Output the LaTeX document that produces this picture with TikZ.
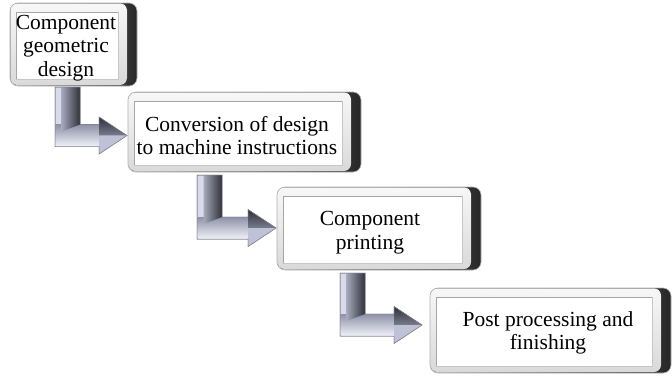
\documentclass[tikz,border=0pt]{standalone}
\usepackage{fontspec}
\setmainfont{Liberation Serif}
\newfontfamily\tnr{Liberation Serif}
\usetikzlibrary{calc}
\definecolor{barlight}{HTML}{D9DBEA}
\definecolor{barline}{HTML}{7E8090}
\definecolor{bartop}{HTML}{8F92A8}
\definecolor{barbot}{HTML}{EEEFF7}
\definecolor{vleft}{HTML}{A6A9BC}
\definecolor{vright}{HTML}{2F3039}
\definecolor{headdark}{HTML}{2E2F3A}
\definecolor{headmid}{HTML}{7A7C8C}
\definecolor{headlight}{HTML}{BFC2D6}
\newcommand\bentarrow[2]{%
  \filldraw[fill=barlight, draw=barline, line width=0.5pt] let \p1=(#1), \p2=(#2) in
    (\x1-12.5pt,\y1) -- (\x1+12.5pt,\y1) -- (\x1+12.5pt,\y2+11pt) -- (\x2-28pt,\y2+11pt)
    -- (\x2-28pt,\y2+18.5pt) -- (\x2,\y2) -- (\x2-28pt,\y2-18.5pt) -- (\x2-28pt,\y2-11pt)
    -- (\x1-12.5pt,\y2-11pt) -- cycle;
  \shade[top color=bartop, bottom color=barbot] let \p1=(#1), \p2=(#2) in
    (\x1-12pt,\y2-10.5pt) rectangle (\x2-28pt,\y2+11pt);
  \shade[left color=vleft, right color=vright] let \p1=(#1), \p2=(#2) in
    (\x1-6pt,\y1) -- (\x1+12.5pt,\y1) -- (\x1+12.5pt,\y2+11pt) -- (\x1-6pt,\y2+4pt) -- cycle;
  \shade[top color=headdark, bottom color=headmid] let \p1=(#1), \p2=(#2) in
    (\x2-28pt,\y2+18.5pt) -- (\x2,\y2) -- (\x2-28pt,\y2) -- cycle;
  \fill[headlight] let \p1=(#1), \p2=(#2) in
    (\x2-28pt,\y2) -- (\x2,\y2) -- (\x2-28pt,\y2-18.5pt) -- cycle;
  \draw[barline, line width=0.5pt] let \p1=(#1), \p2=(#2) in
    (\x1-12.5pt,\y1) -- (\x1+12.5pt,\y1) -- (\x1+12.5pt,\y2+11pt) -- (\x2-28pt,\y2+11pt)
    -- (\x2-28pt,\y2+18.5pt) -- (\x2,\y2) -- (\x2-28pt,\y2-18.5pt) -- (\x2-28pt,\y2-11pt)
    -- (\x1-12.5pt,\y2-11pt) -- cycle;
}
\begin{document}
\begin{tikzpicture}[x=1pt,y=1pt,
  bevbox/.style={rectangle, rounded corners=8pt, draw=gray!60, line width=0.6pt,
    left color=gray!25, right color=black!85, inner sep=0pt, outer sep=0pt,
    path picture={
      \fill[top color=gray!6, bottom color=gray!30, rounded corners=7pt]
        ([xshift=0.3pt,yshift=-0.3pt]path picture bounding box.north west) rectangle
        ([xshift=-10pt,yshift=1pt]path picture bounding box.south east);
      \fill[white, sharp corners]
        ([xshift=6pt,yshift=-9pt]path picture bounding box.north west) rectangle
        ([xshift=-19pt,yshift=7pt]path picture bounding box.south east);
      \draw[gray!45, line width=0.8pt, sharp corners]
        ([xshift=6pt,yshift=-9pt]path picture bounding box.north west) rectangle
        ([xshift=-19pt,yshift=7pt]path picture bounding box.south east);
      \draw[gray!70, line width=1.6pt, sharp corners]
        ([xshift=6.5pt,yshift=7pt]path picture bounding box.south west) |-
        ([xshift=-19pt,yshift=-9.5pt]path picture bounding box.north east);
    }},
  txt/.style={align=center, font=\tnr\fontsize{21.5}{23.5}\selectfont, inner sep=0pt}]
\useasboundingbox (0,0) rectangle (672,-375);
\fill[white] (0,0) rectangle (672,-375);
% boxes
\node[bevbox, minimum width=127pt, minimum height=83pt] (b1) at (73.5,-44.5) {};
\node[bevbox, minimum width=233pt, minimum height=80pt] (b2) at (244.5,-132) {};
\node[bevbox, minimum width=204pt, minimum height=83pt] (b3) at (379,-228.5) {};
\node[bevbox, minimum width=241pt, minimum height=85pt] (b4) at (550.5,-330.5) {};
% texts
\node[txt] (t1) at (66,-48) {Component\\geometric\\design};
\node[txt] (t2) at (237,-135.5) {Conversion of design\\to machine instructions};
\node[txt] (t3) at (370,-232.5) {Component\\printing};
\node[txt] (t4) at (548,-333) {Post processing and\\finishing};
% connector end points
\coordinate (a1s) at ($(b1.south west)+(57.5,-1)$);
\coordinate (a1e) at ($(b2.west)+(-1,-3.5)$);
\coordinate (a2s) at ($(b2.south west)+(81.5,-3)$);
\coordinate (a2e) at ($(b3.west)+(-1,0.5)$);
\coordinate (a3s) at ($(b3.south west)+(75.5,-3)$);
\coordinate (a3e) at ($(b4.west)+(-8,5.5)$);
\bentarrow{a1s}{a1e}
\bentarrow{a2s}{a2e}
\bentarrow{a3s}{a3e}
\end{tikzpicture}
\end{document}
